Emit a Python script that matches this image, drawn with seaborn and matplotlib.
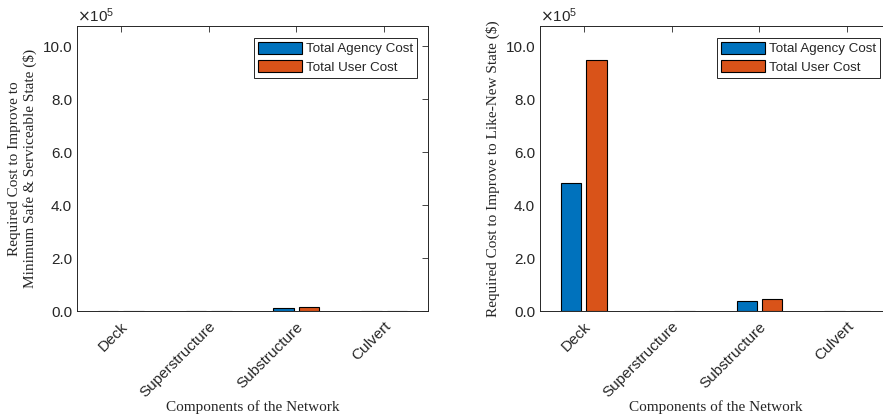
import pandas as pd
import numpy as np
import matplotlib
matplotlib.use('Agg')
import matplotlib.pyplot as plt
import seaborn as sns
from matplotlib.ticker import ScalarFormatter, MultipleLocator

# data
components = ['Deck', 'Superstructure', 'Substructure', 'Culvert']
series = ['Total Agency Cost', 'Total User Cost']
safe_agency = [0, 0, 12500, 0]
safe_user = [0, 0, 16000, 0]
new_agency = [483000, 0, 38000, 0]
new_user = [948000, 0, 46000, 0]

ylabels = ['Required Cost to Improve to\nMinimum Safe & Serviceable State ($)',
           'Required Cost to Improve to Like-New State ($)']
xlabel = 'Components of the Network'

colors = ['#0072BD', '#D95319']


class FixedFormatter(ScalarFormatter):
    def _set_format(self):
        self.format = '%1.1f'


def make_frame(agency, user):
    rows = []
    for c, a, u in zip(components, agency, user):
        rows.append({'component': c, 'series': series[0], 'cost': a})
        rows.append({'component': c, 'series': series[1], 'cost': u})
    return pd.DataFrame(rows)


sns.set_style('white')
plt.rcParams['font.family'] = ['Liberation Sans', 'DejaVu Sans']

fig = plt.figure(figsize=(8.83, 4.17), dpi=100)
ax1 = fig.add_axes([0.0872, 0.254, 0.3975, 0.683])
ax2 = fig.add_axes([0.6116, 0.254, 0.3975, 0.683])

for ax, df, ylab in [(ax1, make_frame(safe_agency, safe_user), ylabels[0]),
                     (ax2, make_frame(new_agency, new_user), ylabels[1])]:
    sns.barplot(data=df, x='component', y='cost', hue='series', order=components,
                hue_order=series, palette=colors, width=0.58, gap=0.2,
                edgecolor='black', linewidth=0.8, saturation=1, ax=ax)
    ax.set_xlim(-0.5, 3.5)
    ax.set_ylim(0, 10.75e5)
    ax.yaxis.set_major_locator(MultipleLocator(2e5))
    fmt = FixedFormatter(useMathText=True)
    fmt.set_powerlimits((5, 5))
    ax.yaxis.set_major_formatter(fmt)
    ax.yaxis.get_offset_text().set_fontsize(11)
    ax.yaxis.get_offset_text().set_color('#262626')
    ax.tick_params(direction='in', length=4, width=0.6, top=True, right=True,
                   labelsize=11, colors='#262626')
    ax.tick_params(axis='x', labelrotation=45, pad=6)
    for lab in ax.get_xticklabels():
        lab.set_ha('right')
        lab.set_rotation_mode('anchor')
    for s in ax.spines.values():
        s.set_color('#262626')
        s.set_linewidth(0.7)
    ax.set_ylabel(ylab, family='Liberation Serif', fontsize=11, color='#262626')
    ax.set_xlabel(xlabel, family='Liberation Serif', fontsize=11, color='#262626')
    ax.xaxis.set_label_coords(0.5, -0.313)
    leg = ax.legend(loc='upper right', fontsize=9.6, fancybox=False,
                    edgecolor='#262626', framealpha=1, handlelength=3.3,
                    handleheight=1.0, handletextpad=0.3, labelspacing=0.38,
                    borderpad=0.3, borderaxespad=0.85)
    leg.get_frame().set_linewidth(0.7)

fig.savefig('out.png', dpi=100)
